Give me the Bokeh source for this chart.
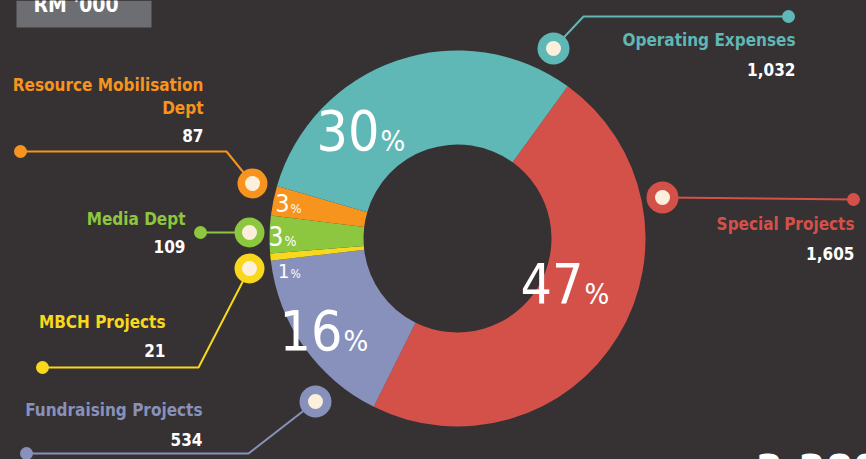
import math
from bokeh.plotting import figure
from bokeh.models import Range1d
from bokeh.core.properties import value
from bokeh.embed import file_html
from bokeh.resources import INLINE

# ---- data ----
categories = ["Special Projects", "Fundraising Projects", "MBCH Projects",
              "Media Dept", "Resource Mobilisation Dept", "Operating Expenses"]
values = [1605, 534, 21, 109, 87, 1032]
value_labels = ["1,605", "534", "21", "109", "87", "1,032"]
unit_label = "RM '000"
total_label = "3,388"

# ---- style ----
BG = "#363132"
colors = ["#d4514a", "#8891bb", "#f8d81c", "#8dc63f", "#f7941e", "#5fb7b6"]
CREAM = "#fcf0dc"
FONT = value("DejaVu Sans Condensed")
W, H = 866, 459


def Y(ry):
    return 459 - ry


p = figure(width=W, height=H, x_range=Range1d(0, W), y_range=Range1d(0, H),
           output_backend="svg", toolbar_location=None, min_border=0,
           x_axis_type=None, y_axis_type=None,
           background_fill_color=BG, border_fill_color=BG, outline_line_color=None)
p.grid.visible = False


def txt(x, base_y, s, size, color, align, bold=False):
    # base_y: desired baseline in pixels from top; compensate renderer offset
    p.text(x=[x], y=[Y(base_y - 0.42 * size)], text=[s], text_align=align,
           text_baseline="alphabetic", text_font=FONT, text_font_size=f"{size}px",
           text_font_style="bold" if bold else "normal", text_color=color)


# ---- donut ----
cx, cy, r_in, r_out = 457, Y(238), 94, 188
start_deg = 54.1
total = sum(values)
starts, ends = [], []
acc = 0.0
for v in values:
    a0 = math.radians(start_deg - acc / total * 360)
    acc += v
    a1 = math.radians(start_deg - acc / total * 360)
    starts.append(a0)
    ends.append(a1)
p.annular_wedge(x=[cx] * len(values), y=[cy] * len(values), inner_radius=r_in, outer_radius=r_out,
                start_angle=starts, end_angle=ends, direction="clock",
                fill_color=colors, line_color=None)

# ---- percentage labels ----
pcts = [str(round(v / total * 100)) for v in values]
# (x of split between number and %, baseline y, number size, % size)
pct_pos = [(583, 306, 55, 29),
           (342, 353, 55, 29),
           (289, 279, 20, 12),
           (283, 246, 26, 14),
           (289, 213, 25, 13),
           (379, 153, 55, 29)]
for pc, (px, py, s1, s2) in zip(pcts, pct_pos):
    txt(px, py, pc, s1, "white", "right")
    txt(px + 1, py, "%", s2, "white", "left")

# ---- leader lines, dots and rings ----
leaders = [
    [(853, 199), (662, 197)],
    [(26, 453), (248, 453), (315, 401)],
    [(42, 367), (198, 367), (249, 268)],
    [(200, 232), (249, 232)],
    [(20, 151), (226, 151), (252, 183)],
    [(788, 16), (583, 16), (553, 48)],
]
rings = [(662, 197, 16), (315, 401, 16), (249, 268, 15), (249, 232, 15), (252, 183, 15), (553, 48, 16)]
for pts, (rx, ry, rr), c in zip(leaders, rings, colors):
    p.line(x=[q[0] for q in pts], y=[Y(q[1]) for q in pts], line_color=c, line_width=2)
    p.circle(x=[pts[0][0]], y=[Y(pts[0][1])], radius=6.5, fill_color=c, line_color=None)
    p.circle(x=[rx], y=[Y(ry)], radius=rr, fill_color=c, line_color=None)
    p.circle(x=[rx], y=[Y(ry)], radius=7.5, fill_color=CREAM, line_color=None)

# ---- category labels ----
LS = 17
# (right x, name baseline, value baseline)
label_pos = [(854, 231, 260),
             (202, 417, 446),
             (165, 329, 357),
             (185, 226, 253),
             (203, 115, 142),
             (795, 47, 76)]
for name, vl, c, (lx, nb, vb) in zip(categories, value_labels, colors, label_pos):
    if name == "Resource Mobilisation Dept":
        txt(lx, 92, "Resource Mobilisation", LS, c, "right", True)
        txt(lx, nb, "Dept", LS, c, "right", True)
    else:
        txt(lx, nb, name, LS, c, "right", True)
    txt(lx, vb, vl, LS, "white", "right", True)

# ---- unit box (top-left, cut off) ----
p.quad(left=[16], right=[151], top=[Y(0)], bottom=[Y(27)], fill_color="#6d6e71", line_color=None)
txt(33, 13, unit_label, 21, "white", "left", True)

# ---- total (bottom-right, cut off) ----
p.text(x=[755], y=[Y(453)], text=[total_label], text_align="left", text_baseline="top",
       text_font=FONT, text_font_size="44px", text_font_style="bold", text_color="white")

html = file_html(p, INLINE)
html = html.replace("<head>", "<head><style>html,body{background-color:#363132;}</style>", 1)
open("out.html", "w").write(html)
